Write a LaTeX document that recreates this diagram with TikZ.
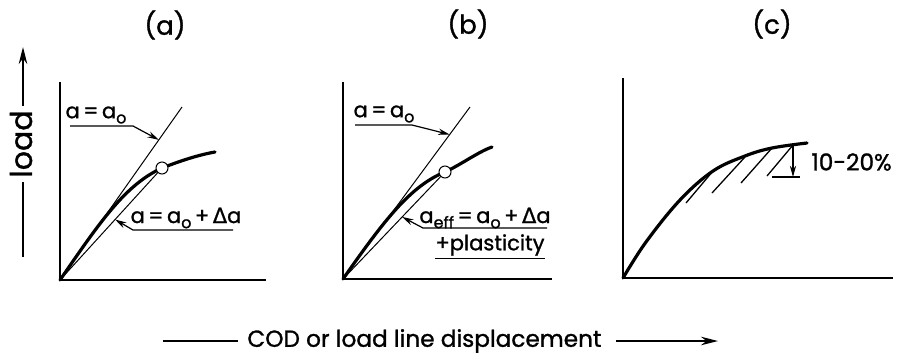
\documentclass[tikz,border=0pt]{standalone}
\usepackage{fontspec}
\setmainfont{Poppins}[FakeBold=1.2]
\newfontfamily\symfont{DejaVu Sans}[FakeBold=0.8]
\usetikzlibrary{arrows.meta, positioning, calc}

\newcommand{\lowidx}[1]{\raisebox{-0.45ex}{\footnotesize #1}}
\newcommand{\delt}{{\symfont\char"0394}}

\begin{document}
\begin{tikzpicture}[
    x=0.5pt, y=-0.5pt,
    axis/.style={line width=1pt},
    ref/.style={line width=0.5pt},
    hatch/.style={line width=0.65pt},
    curve/.style={line width=1.6pt, line cap=round},
    lead/.style={line width=0.6pt},
    tip/.style={-{Stealth[length=2mm, width=1.1mm]}, line width=0.6pt},
    arr/.style={-{Stealth[length=3mm, width=1.5mm]}, line width=0.7pt},
    lbl/.style={font=\fontsize{10.5}{12}\selectfont, inner sep=0pt},
    ttl/.style={font=\fontsize{13}{15}\selectfont, inner sep=0pt},
    every node/.style={font=\fontsize{11.6}{14}\selectfont}
]
\useasboundingbox (0,0) rectangle (901,355);

% =============================================
% LEFT: load axis label
% =============================================
\node[rotate=90, inner xsep=2pt, inner ysep=0pt, font=\fontsize{15}{16}\selectfont] (load) at (21,144) {load};
\coordinate (loadtop) at (23,47);
\coordinate (loadbot) at (23,257);
\draw[lead] (loadbot) -- (loadbot |- load.west);
\draw[arr] (loadbot |- load.east) -- (loadtop);

% =============================================
% PANEL (a)
% =============================================
\node[ttl] (tita) at (165,25) {(a)};
\coordinate (Oa) at (60,280);
\draw[axis] (60,82) -- (Oa) -- (266,280);
\coordinate (Ea) at (182,107);
\coordinate (pa) at (162,168);
\draw[ref] (Oa) -- (Ea);
\draw[ref] (Oa) -- (pa);
\draw[curve] (Oa) .. controls (100,222) and (125,185) .. (pa)
    .. controls (180,161) and (198,155) .. (215,152);
\node[circle, draw, fill=white, inner sep=0pt, minimum size=6pt, line width=0.5pt] at (pa) {};

\node[lbl] (laa) at (96,115) {a\,=\,a\lowidx{o}};
\draw[tip] (70,126) -- (133,126) -- ($(Oa)!0.81!(Ea)$);
\node[lbl] (lab) at (186,218) {a\,=\,a\lowidx{o}\,+\,\delt a};
\draw[tip] (233,230) -- (133,230) -- ($(Oa)!0.54!(pa)$);

% =============================================
% PANEL (b)
% =============================================
\node[ttl] (titb) at (468,24) {(b)};
\coordinate (Ob) at (343,279);
\draw[axis] (343,82) -- (Ob) -- (552,279);
\coordinate (Eb) at (470,107);
\coordinate (pb) at (445,172);
\draw[ref] (Ob) -- (Eb);
\draw[ref] (Ob) -- (pb);
\draw[curve] (Ob) .. controls (383,222) and (410,186) .. (pb)
    .. controls (462,164) and (478,152) .. (492,147);
\node[circle, draw, fill=white, inner sep=0pt, minimum size=6pt, line width=0.5pt] at (pb) {};

\node[lbl] (lba) at (384,114) {a\,=\,a\lowidx{o}};
\draw[tip] (355,125) -- (412,125) -- ($(Ob)!0.84!(Eb)$);
\node[lbl] (lbb) at (485,218) {a\lowidx{eff}\,=\,a\lowidx{o}\,+\,\delt a};
\draw[tip] (547,228) -- (423,228) -- ($(Ob)!0.58!(pb)$);
\node[lbl] (lbc) at (490,247) {\underline{+plasticity}};

% =============================================
% PANEL (c)
% =============================================
\node[ttl] (titc) at (772,24) {(c)};
\coordinate (Oc) at (623,278);
\draw[axis] (623,78) -- (Oc) -- (893,278);
\draw[curve] plot[smooth, tension=0.6] coordinates {(623,278) (646,242) (680,200) (713,171) (745,156) (772,148) (807,143)};
% hatching
\draw[hatch] (713,171) -- (686,203);
\draw[hatch] (745,157) -- (712,193);
\draw[hatch] (772,148) -- (741,183);
\draw[hatch] (793,145) -- (767,176);
\draw[lead] (772,177) -- (800,177);
\draw[tip] (793,145) -- (793,177);
\node[anchor=west, inner sep=0pt] (drop) at (811,162) {10-20\%};

% =============================================
% BOTTOM: displacement axis label
% =============================================
\node[anchor=west, inner sep=0pt] (cod) at (247,341) {COD or load line displacement};
\coordinate (codl) at (163,341);
\coordinate (codr) at (718,341);
\draw[lead] (codl) -- ([xshift=-4.5pt]cod.west);
\draw[arr] ([xshift=7pt]cod.east) -- (codr);
\end{tikzpicture}
\end{document}
